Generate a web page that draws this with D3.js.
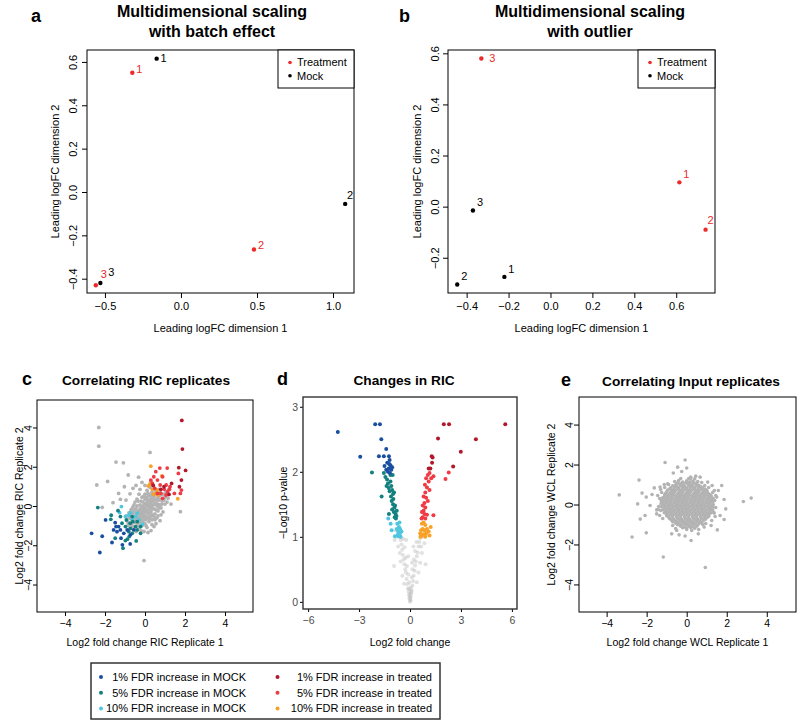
<!DOCTYPE html>
<html lang="en">
<head>
<meta charset="UTF-8">
<title>MDS and RIC replicate panels</title>
<script src="https://d3js.org/d3.v7.min.js"></script>
<style>
  body { margin: 0; background: #fff; }
  svg text { font-family: "Liberation Sans", Arial, sans-serif; }
</style>
</head>
<body>
<div id="fig"></div>
<script>
// ---------- data ----------
const mdsGroups = ["Treatment", "Mock"];
const replicateIds = ["1", "2", "3"];

// panel a: MDS with batch effect (dim1, dim2), replicate 1..3
const batchTreatment = [[-0.32, 0.55], [0.48, -0.265], [-0.56, -0.43]];
const batchMock = [[-0.16, 0.615], [1.08, -0.055], [-0.53, -0.42]];
// panel b: MDS with outlier
const outlierTreatment = [[0.615, 0.095], [0.74, -0.09], [-0.33, 0.58]];
const outlierMock = [[-0.22, -0.275], [-0.445, -0.305], [-0.37, -0.015]];

const fdrLabels = ["1% FDR increase in MOCK", "5% FDR increase in MOCK", "10% FDR increase in MOCK",
  "1% FDR increase in treated", "5% FDR increase in treated", "10% FDR increase in treated"];

// panel c: RIC replicate 1 vs replicate 2 (log2 fold change)
const ricGrey = [[-2.31,4.0],[-2.31,3.05],[-2.41,1.07],[-1.87,1.25],[-1.45,2.24],[-1.08,2.2],[-2.14,-0.07],
  [-1.32,0.64],[-0.84,1.58],[-0.32,1.47],[0.25,2.73],[-0.05,-2.78],[1.77,-0.29],[-1.6,0.17],[-1.23,0.34],
  [-1.03,0.98],[-0.6,0.9],[-0.45,1.05],[-0.15,1.2],[0.0,1.05],[-0.75,0.62],[-0.95,0.3],[-0.25,0.85],
  [0.55,-0.9],[0.75,-0.75],[0.45,-1.05],[0.3,-1.25],[0.15,-1.35],[0.6,-0.6],[0.9,-0.3],[1.3,0.1],[1.1,0.2],
  [1.0,0.45],[0.9,0.35],
  [-0.9,-0.75],[-0.8,-0.6],[-0.7,-0.9],[-0.65,-0.45],[-0.6,-0.7],[-0.55,-0.3],[-0.5,-0.55],[-0.5,-0.85],
  [-0.45,-0.15],[-0.4,-0.4],[-0.4,-0.7],[-0.35,-0.95],[-0.3,-0.25],[-0.3,-0.55],[-0.25,0.05],[-0.25,-0.8],
  [-0.2,-0.35],[-0.2,-0.6],[-0.15,-0.1],[-0.15,-1.0],[-0.1,0.2],[-0.1,-0.45],[-0.1,-0.75],[-0.05,-0.2],
  [0.0,0.1],[0.0,-0.5],[0.0,-0.9],[0.05,0.35],[0.05,-0.25],[0.05,-0.7],[0.1,0.0],[0.1,-1.1],[0.15,0.25],
  [0.15,-0.4],[0.2,0.55],[0.2,-0.15],[0.2,-0.8],[0.25,0.1],[0.25,-0.55],[0.3,0.4],[0.3,-0.3],[0.35,0.7],
  [0.35,0.0],[0.35,-0.7],[0.4,0.25],[0.4,-0.45],[0.45,0.5],[0.45,-0.15],[0.5,0.85],[0.5,0.1],[0.5,-0.4],
  [0.55,0.35],[0.6,0.0],[0.6,0.6],[0.65,-0.25],[0.7,0.3],[0.75,0.55],[0.75,0.05],[0.8,-0.1],[0.85,0.25],
  [0.9,0.6],[1.0,0.1],[1.05,0.7],[1.15,0.4],[1.2,0.85],[-0.7,-0.2],[-0.8,-0.35],[-0.95,-0.5],[-0.6,-0.05],
  [-0.35,0.25],[-0.5,0.2],[-0.15,0.45],[0.0,0.6],[0.1,0.8],[0.25,0.95],[0.4,1.05],[-0.05,-1.3],[-0.3,-1.1],
  [-0.2,-1.25],[0.35,-0.95],[0.5,-0.7],[0.65,-0.5],[0.8,-0.45],[-0.85,-1.0],[-0.75,-1.15],[-0.55,-1.1],
  [-0.45,-1.3],[0.15,0.65],[-0.3,0.6],[0.55,0.75],[0.7,0.85],[0.3,1.25],[0.0,0.35],[-0.4,0.0],[-0.65,-0.15],
  [-0.85,-0.85],[-0.75,-0.5],[-0.7,-0.65],[-0.6,-0.35],[-0.55,-0.6],[-0.45,-0.45],[-0.45,-0.75],[-0.35,-0.3],
  [-0.35,-0.6],[-0.25,-0.15],[-0.25,-0.45],[-0.2,-0.7],[-0.15,-0.25],[-0.1,0.0],[-0.05,-0.35],[-0.05,-0.6],
  [0.0,-0.1],[0.05,0.15],[0.1,-0.3],[0.1,-0.55],[0.15,0.05],[0.15,-0.2],[0.2,0.3],[0.25,-0.05],[0.25,-0.35],
  [0.3,0.2],[0.3,0.55],[0.35,-0.15],[0.4,0.45],[0.4,0.05],[0.45,0.3],[0.5,0.6],[0.55,0.15],[0.55,-0.2],
  [0.65,0.45],[0.65,0.1],[0.7,-0.1],[0.8,0.35],[0.85,0.1],[0.95,0.3],[-0.1,-0.9],[0.05,-1.0],[-0.3,-0.85],
  [0.2,-0.65],[0.3,-0.5],[0.45,-0.55],[-0.2,0.25],[-0.05,0.5],[0.1,0.45],[-0.4,0.35],[-0.55,0.05],[0.6,0.3],
  [0.75,0.7],[0.45,0.9],[-0.65,-1.0],[-0.15,-0.55],[0.35,0.25],[-0.5,-0.2],[0.0,-0.3],[0.2,0.1]];
const ricMock10 = [[-1.18,-0.03],[-1.27,-0.34],[-0.81,-0.46],[-0.64,-0.68],[-0.47,-0.54],[-0.3,-0.71],
  [-0.14,-0.93],[-0.98,-0.54],[-0.73,-0.34],[-0.39,-0.37]];
const ricMock5 = [[-2.36,-0.08],[-1.69,-0.47],[-1.71,-0.68],[-1.35,-0.24],[-1.15,-0.88],[-0.93,-0.71],
  [-0.74,-0.88],[-0.61,-0.8],[-0.47,-1.05],[-0.39,-1.22],[-0.22,-1.05],[-0.44,-1.78],[-0.79,-1.56],
  [-0.98,-1.76],[-1.1,-2.15],[-0.88,-1.69],[-0.73,-1.14],[-0.64,-1.39],[-0.98,-1.05],[-0.64,-0.54],
  [-0.39,-0.8],[-1.23,-0.54],[-0.81,-1.31],[-1.49,-1.64],[-0.22,-1.39]];
const ricMock1 = [[-2.67,-1.39],[-2.26,-2.37],[-2.14,-1.54],[-1.97,-0.71],[-1.65,-1.86],[-1.49,-0.85],
  [-1.45,-1.05],[-1.57,-1.22],[-1.4,-1.31],[-1.23,-1.22],[-1.13,-1.98],[-0.74,-1.93],[-1.06,-1.39],
  [-0.89,-1.22],[-1.32,-1.05],[-0.73,-1.47],[-0.56,-1.22],[-1.2,-1.64]];
const ricTreat10 = [[0.29,2.03],[0.84,1.53],[0.25,1.12],[0.37,0.85],[0.54,0.64],[0.42,0.61],[0.62,0.81],
  [1.64,0.37],[0.17,1.02],[0.66,0.56]];
const ricTreat5 = [[0.74,1.93],[1.11,1.93],[0.54,1.75],[0.44,1.49],[0.62,1.32],[0.88,1.49],[1.67,1.66],
  [1.77,0.64],[1.82,0.81],[0.37,1.15],[0.76,1.07],[0.96,0.85],[1.13,0.73],[1.06,1.07],[1.25,0.98],
  [0.62,0.64],[1.05,0.56],[0.88,0.39],[0.29,1.32],[1.47,0.64],[1.22,0.85],[0.49,0.9],[0.79,0.64]];
const ricTreat1 = [[1.84,4.36],[1.87,2.9],[2.03,1.81],[1.69,1.95],[1.82,1.32],[1.72,0.98],[1.33,1.15],
  [1.2,0.59],[0.95,0.98],[0.79,0.85],[0.41,1.05]];

// panel d: volcano (log2 fold change, -log10 p)
const volGrey = [[0,0],[0.02,0.03],[-0.03,0.05],[0.05,0.08],[-0.06,0.1],[0.08,0.13],[-0.08,0.15],[0.1,0.18],
  [-0.12,0.2],[0.0,0.12],[0.14,0.25],[-0.15,0.27],[0.05,0.22],[-0.04,0.3],[0.18,0.32],[-0.2,0.35],[0.1,0.38],
  [-0.1,0.42],[0.22,0.4],[-0.24,0.45],[0.27,0.48],[-0.28,0.5],[0.15,0.5],[-0.18,0.55],[0.3,0.56],[-0.33,0.58],
  [0.35,0.62],[-0.37,0.65],[0.22,0.65],[-0.25,0.68],[0.4,0.7],[-0.42,0.72],[0.45,0.76],[-0.46,0.8],[0.3,0.78],
  [-0.32,0.84],[0.5,0.85],[-0.5,0.88],[0.55,0.92],[-0.55,0.95],[0.38,0.92],[-0.4,0.97],[0.6,0.98],[-0.62,1.0],
  [0.85,0.9],[0.7,0.75],[-0.7,0.85],[-0.9,0.95],[0.6,0.6],[-0.55,0.62],[0.5,0.45],[-0.45,0.4],[0.75,1.0],
  [-0.8,1.0],[0.4,0.3],[-0.35,0.28],[0.65,0.85],[-0.6,0.75],[0.95,1.08],[-0.85,1.1],[0.12,0.6],[-0.1,0.7],
  [0.2,0.85],[-0.22,0.95],[0.92,0.58],[-0.94,0.55],[0.03,0.02],[-0.01,0.07],[0.06,0.16],[-0.05,0.2]];
const volMock1 = [[-4.25,2.61],[-2.93,2.23],[-2.05,2.73],[-1.77,2.73],[-1.69,2.5],[-1.4,2.35],[-1.83,2.24],
  [-1.54,2.24],[-1.24,2.24],[-1.5,2.09],[-1.34,2.14],[-1.2,2.18],[-1.15,2.1],[-1.25,2.05],[-1.1,2.03],
  [-1.3,2.0],[-1.18,1.98],[-1.4,2.03],[-1.05,2.07],[-1.22,2.12]];
const volMock5 = [[-2.24,1.99],[-1.67,1.62],[-1.54,1.98],[-1.24,1.35],[-1.45,1.92],[-1.35,1.88],[-1.3,1.82],
  [-1.15,1.85],[-1.25,1.75],[-1.1,1.78],[-1.2,1.7],[-1.05,1.72],[-1.0,1.66],[-1.12,1.62],[-1.08,1.55],
  [-0.98,1.58],[-1.0,1.5],[-0.92,1.45],[-1.05,1.42],[-0.95,1.38],[-0.85,1.35],[-0.9,1.3],[-0.8,1.32],
  [-1.15,1.95],[-1.38,1.78],[-0.88,1.48],[-1.02,1.95],[-0.94,1.68],[-0.78,1.4],[-0.83,1.28]];
const volMock10 = [[-1.28,1.28],[-1.14,1.2],[-1.08,1.1],[-0.89,1.01],[-0.75,1.2],[-0.65,1.15],[-0.7,1.08],
  [-0.6,1.05],[-0.55,1.0],[-0.68,1.01],[-0.78,1.12],[-0.62,1.22],[-0.5,1.08],[-0.58,1.12],[-0.72,1.03]];
const volTreat1 = [[1.99,2.73],[2.3,2.73],[5.61,2.73],[1.65,2.51],[3.88,2.5],[2.99,2.31],[1.28,2.24],
  [1.3,2.14],[2.54,2.08],[1.1,2.05],[1.2,2.05],[1.33,2.22]];
const volTreat5 = [[2.28,1.99],[2.09,1.89],[1.38,1.93],[1.05,1.95],[1.15,1.98],[0.95,1.9],[1.25,1.9],
  [1.1,1.85],[0.88,1.8],[1.0,1.76],[1.15,1.72],[0.9,1.68],[0.8,1.62],[0.95,1.6],[1.05,1.55],[0.85,1.52],
  [0.75,1.48],[0.9,1.45],[0.8,1.4],[0.7,1.38],[0.85,1.35],[0.75,1.3],[1.0,1.34],[0.68,1.28],[1.38,1.33],[0.9,1.28]];
const volTreat10 = [[0.7,1.2],[0.8,1.22],[0.9,1.18],[0.75,1.12],[0.65,1.1],[0.85,1.1],[1.0,1.12],[0.6,1.05],
  [0.7,1.02],[0.8,1.04],[0.95,1.05],[1.1,1.08],[1.22,1.15],[1.15,1.02],[0.62,1.0],[0.9,1.0]];

// panel e: input (WCL) replicate 1 vs replicate 2
const wclGrey = [[-3.37,0.48],[-2.73,-1.63],[-2.38,1.22],[-2.45,0.03],[-2.32,-0.73],[-2.23,0.57],[-2.02,0.37],
  [-2.08,-0.55],[-2.02,-1.42],[-1.83,-0.05],[-1.73,0.5],[-1.62,0.83],[-1.5,-0.47],[-1.5,-0.27],[-1.12,1.0],
  [-1.08,2.1],[-1.17,-2.63],[-0.95,1.03],[-0.45,1.87],[-0.67,1.58],[-0.08,2.23],[0.0,1.83],[-0.25,1.65],
  [0.2,1.37],[0.45,1.42],[0.67,1.37],[0.93,-3.15],[0.22,-1.8],[-0.08,-1.58],[-0.38,-1.52],[-0.75,-1.47],
  [-0.5,-1.3],[0.58,-1.47],[0.87,-1.13],[1.22,-1.05],[1.53,-1.27],[1.27,0.95],[1.58,0.7],[1.75,0.95],
  [1.5,0.37],[1.87,0.25],[1.95,-0.22],[1.87,-0.75],[1.67,-0.55],[1.37,-0.43],[2.83,0.15],[3.22,0.32],
  [1.05,1.12],[-1.33,0.87],[-1.27,0.17],
  [-1.35,0.3],[-1.3,-0.3],[-1.25,0.6],[1.4,0.2],[1.35,-0.4],[1.3,0.6],[-0.9,1.0],[0.9,0.95],[-0.7,-1.05],
  [0.8,-1.0],[0.2,1.3],[-0.4,1.2],[0.55,1.15],[0.0,-1.25],[-1.4,-0.1],[1.45,-0.15],
  [-1.45,0.45],[-1.42,-0.25],[1.45,0.45],[1.42,-0.6],[-1.2,-0.7],[1.25,-0.8],[-1.1,0.85],[1.1,0.85],
  [0.6,-1.25],[-0.55,-1.2],[0.1,1.3],[-0.3,1.3],[0.4,1.28],[-0.6,1.15],[0.75,1.1],[0.25,-1.3],[-1.3,0.75],
  [1.38,0.7],[-1.35,-0.55],[0.95,-0.95],
  [-0.2,1.12],[0.0,1.18],[0.15,1.13],[0.3,1.16],
  [-0.45,1.08],[-0.25,1.06],[-0.05,1.09],[0.15,1.06],[0.35,1.08],[0.5,1.07],
  [-0.55,0.98],[-0.35,1.02],[-0.15,0.97],[0.05,1.03],[0.25,0.99],[0.45,1.01],[0.6,0.96],
  [-0.7,0.93],[-0.5,0.91],[-0.3,0.94],[-0.1,0.9],[0.1,0.93],[0.3,0.91],[0.5,0.94],[0.7,0.9],
  [-0.8,0.83],[-0.6,0.87],[-0.4,0.84],[-0.2,0.86],[0.0,0.82],[0.2,0.88],[0.4,0.84],[0.6,0.86],[0.8,0.83],
  [-0.85,0.78],[-0.65,0.76],[-0.45,0.79],[-0.25,0.75],[-0.05,0.78],[0.15,0.76],[0.35,0.79],[0.55,0.75],
  [0.75,0.78],[0.92,0.77],
  [-0.95,0.72],[-0.75,0.68],[-0.55,0.71],[-0.35,0.69],[-0.15,0.72],[0.05,0.68],[0.25,0.71],[0.45,0.69],
  [0.65,0.72],[0.85,0.68],[1.0,0.71],
  [-1.0,0.63],[-0.8,0.61],[-0.6,0.64],[-0.4,0.6],[-0.2,0.63],[0.0,0.61],[0.2,0.64],[0.4,0.6],[0.6,0.63],
  [0.8,0.61],[1.02,0.64],
  [-1.05,0.56],[-0.85,0.53],[-0.65,0.57],[-0.45,0.54],[-0.25,0.56],[-0.05,0.53],[0.15,0.57],[0.35,0.54],
  [0.55,0.56],[0.75,0.53],[0.95,0.57],[1.1,0.54],
  [-1.1,0.48],[-0.95,0.46],[-0.75,0.49],[-0.55,0.45],[-0.35,0.48],[-0.15,0.46],[0.05,0.49],[0.25,0.45],
  [0.45,0.48],[0.65,0.46],[0.85,0.49],[1.05,0.45],[1.2,0.47],
  [-1.1,0.41],[-0.9,0.38],[-0.7,0.42],[-0.5,0.39],[-0.3,0.41],[-0.1,0.38],[0.1,0.42],[0.3,0.39],[0.5,0.41],
  [0.7,0.38],[0.9,0.42],[1.1,0.39],[1.22,0.41],
  [-1.2,0.33],[-1.0,0.31],[-0.8,0.34],[-0.6,0.3],[-0.4,0.33],[-0.2,0.31],[0.0,0.34],[0.2,0.3],[0.4,0.33],
  [0.6,0.31],[0.8,0.34],[1.0,0.3],[1.18,0.33],[1.32,0.31],
  [-1.15,0.26],[-0.95,0.23],[-0.75,0.27],[-0.55,0.24],[-0.35,0.26],[-0.15,0.23],[0.05,0.27],[0.25,0.24],
  [0.45,0.26],[0.65,0.23],[0.85,0.27],[1.05,0.24],[1.25,0.26],
  [-1.25,0.18],[-1.05,0.16],[-0.85,0.19],[-0.65,0.15],[-0.45,0.18],[-0.25,0.16],[-0.05,0.19],[0.15,0.15],
  [0.35,0.18],[0.55,0.16],[0.75,0.19],[0.95,0.15],[1.15,0.18],[1.32,0.16],
  [-1.2,0.11],[-1.0,0.08],[-0.8,0.12],[-0.6,0.09],[-0.4,0.11],[-0.2,0.08],[0.0,0.12],[0.2,0.09],[0.4,0.11],
  [0.6,0.08],[0.8,0.12],[1.0,0.09],[1.2,0.11],
  [-1.28,0.03],[-1.1,0.01],[-0.9,0.04],[-0.7,0.0],[-0.5,0.03],[-0.3,0.01],[-0.1,0.04],[0.1,0.0],[0.3,0.03],
  [0.5,0.01],[0.7,0.04],[0.9,0.0],[1.1,0.03],[1.32,0.01],
  [-1.15,-0.04],[-0.95,-0.07],[-0.75,-0.03],[-0.55,-0.06],[-0.35,-0.04],[-0.15,-0.07],[0.05,-0.03],
  [0.25,-0.06],[0.45,-0.04],[0.65,-0.07],[0.85,-0.03],[1.05,-0.06],[1.25,-0.04],
  [-1.25,-0.11],[-1.05,-0.13],[-0.85,-0.1],[-0.65,-0.14],[-0.45,-0.11],[-0.25,-0.13],[-0.05,-0.1],
  [0.15,-0.14],[0.35,-0.11],[0.55,-0.13],[0.75,-0.1],[0.95,-0.14],[1.15,-0.11],[1.32,-0.12],
  [-1.1,-0.19],[-0.9,-0.22],[-0.7,-0.18],[-0.5,-0.21],[-0.3,-0.19],[-0.1,-0.22],[0.1,-0.18],[0.3,-0.21],
  [0.5,-0.19],[0.7,-0.22],[0.9,-0.18],[1.1,-0.21],[1.2,-0.19],
  [-1.2,-0.26],[-1.0,-0.28],[-0.8,-0.25],[-0.6,-0.29],[-0.4,-0.26],[-0.2,-0.28],[0.0,-0.25],[0.2,-0.29],
  [0.4,-0.26],[0.6,-0.28],[0.8,-0.25],[1.0,-0.29],[1.2,-0.26],[1.3,-0.28],
  [-1.05,-0.34],[-0.85,-0.37],[-0.65,-0.33],[-0.45,-0.36],[-0.25,-0.34],[-0.05,-0.37],[0.15,-0.33],
  [0.35,-0.36],[0.55,-0.34],[0.75,-0.37],[0.95,-0.33],[1.15,-0.36],
  [-1.12,-0.41],[-0.95,-0.43],[-0.75,-0.4],[-0.55,-0.44],[-0.35,-0.41],[-0.15,-0.43],[0.05,-0.4],
  [0.25,-0.44],[0.45,-0.41],[0.65,-0.43],[0.85,-0.4],[1.05,-0.44],[1.2,-0.42],
  [-1.0,-0.49],[-0.8,-0.52],[-0.6,-0.48],[-0.4,-0.51],[-0.2,-0.49],[0.0,-0.52],[0.2,-0.48],[0.4,-0.51],
  [0.6,-0.49],[0.8,-0.52],[1.0,-0.48],[1.1,-0.51],
  [-1.0,-0.56],[-0.9,-0.58],[-0.7,-0.55],[-0.5,-0.59],[-0.3,-0.56],[-0.1,-0.58],[0.1,-0.55],[0.3,-0.59],
  [0.5,-0.56],[0.7,-0.58],[0.9,-0.55],[1.1,-0.59],
  [-0.9,-0.64],[-0.7,-0.67],[-0.5,-0.63],[-0.3,-0.66],[-0.1,-0.64],[0.1,-0.67],[0.3,-0.63],[0.5,-0.66],
  [0.7,-0.64],[0.9,-0.67],[1.05,-0.63],
  [-0.85,-0.71],[-0.65,-0.73],[-0.45,-0.7],[-0.25,-0.74],[-0.05,-0.71],[0.15,-0.73],[0.35,-0.7],
  [0.55,-0.74],[0.75,-0.71],[0.95,-0.73],
  [-0.75,-0.79],[-0.55,-0.82],[-0.35,-0.78],[-0.15,-0.81],[0.05,-0.79],[0.25,-0.82],[0.45,-0.78],
  [0.65,-0.81],[0.85,-0.79],
  [-0.7,-0.86],[-0.45,-0.88],[-0.25,-0.85],[-0.05,-0.89],[0.15,-0.86],[0.35,-0.88],[0.55,-0.85],[0.75,-0.89],
  [-0.55,-0.94],[-0.35,-0.97],[-0.15,-0.93],[0.05,-0.96],[0.25,-0.94],[0.45,-0.97],[0.65,-0.93],
  [-0.45,-1.01],[-0.25,-1.03],[-0.05,-1.0],[0.15,-1.04],[0.35,-1.01],[0.55,-1.03],
  [-0.3,-1.09],[-0.1,-1.12],[0.1,-1.08],[0.3,-1.11],[0.5,-1.09],
  [-0.2,-1.16],[0.0,-1.18],[0.2,-1.15],[0.4,-1.19]];

// ---------- styling ----------
const red = "#ec2a2a";
const fdrColor = {
  mock1: "#1a4fa0", mock5: "#13817f", mock10: "#50c6df",
  treat1: "#b2182b", treat5: "#ee3b44", treat10: "#f8a127"
};
const greyPt = "#b3b3b3";

// label offsets (px) for replicate numbers, [dx, dy]
const batchTOff = [[7, -4], [7, -4], [8, -11]];
const batchMOff = [[7, -1], [5, -9], [11, -11]];
const outTOff = [[7, -8], [5, -9], [11, 0]];
const outMOff = [[7, -8], [7, -8], [7, -8]];

const svg = d3.select("#fig").append("svg")
  .attr("width", 800).attr("height", 725);

const fmt1 = d3.format(".1f"), fmt0 = d3.format("d");

function panel(p) {
  const g = svg.append("g");
  const x = d3.scaleLinear().domain(p.xd).range([p.left, p.right]);
  const y = d3.scaleLinear().domain(p.yd).range([p.bottom, p.top]);

  const xa = g.append("g").attr("transform", `translate(0,${p.bottom})`)
    .call(d3.axisBottom(x).tickValues(p.xt).tickFormat(p.fmt)
      .tickSizeOuter(0).tickSize(p.tick).tickPadding(p.xpad));
  const ya = g.append("g").attr("transform", `translate(${p.left},0)`)
    .call(d3.axisLeft(y).tickValues(p.yt).tickFormat(p.fmt)
      .tickSizeOuter(0).tickSize(p.tick));
  [xa, ya].forEach(a => {
    a.select(".domain").remove();
    a.attr("font-size", p.fs);
    a.selectAll("line").attr("stroke", "#000");
    a.selectAll("text").attr("fill", p.tickInk || "#000");
  });
  if (p.rotY) {
    ya.selectAll(".tick text")
      .attr("transform", "rotate(-90)")
      .attr("x", 0).attr("y", -p.ypad).attr("dy", 0)
      .attr("text-anchor", "middle");
  } else {
    ya.selectAll(".tick text").attr("x", -p.ypad).attr("dy", "0.34em");
  }

  g.append("rect")
    .attr("x", p.left).attr("y", p.top)
    .attr("width", p.right - p.left).attr("height", p.bottom - p.top)
    .attr("fill", "none").attr("stroke", p.boxInk || "#000")
    .attr("stroke-width", p.boxW || 1);

  // axis titles
  g.append("text")
    .attr("x", (p.left + p.right) / 2).attr("y", p.xlabY)
    .attr("text-anchor", "middle").attr("font-size", p.lfs)
    .text(p.xlab);
  const cy = (p.top + p.bottom) / 2;
  g.append("text")
    .attr("transform", `translate(${p.ylabX},${cy}) rotate(-90)`)
    .attr("text-anchor", "middle").attr("dy", "0.35em").attr("font-size", p.lfs)
    .text(p.ylab);

  // title and panel letter
  p.title.forEach((t, i) => {
    g.append("text")
      .attr("x", p.titleX).attr("y", p.titleY + i * p.titleStep)
      .attr("text-anchor", "middle").attr("font-weight", "bold")
      .attr("font-size", p.tfs).text(t);
  });
  g.append("text")
    .attr("x", p.letterX).attr("y", p.letterY)
    .attr("font-weight", "bold").attr("font-size", 18).text(p.letter);

  return { g, x, y };
}

function dots(P, pts, color, r, opacity) {
  P.g.append("g").selectAll("circle")
    .data(pts)
    .join("circle")
    .attr("cx", d => P.x(d[0]))
    .attr("cy", d => P.y(d[1]))
    .attr("r", r)
    .attr("fill", color)
    .attr("fill-opacity", opacity == null ? 1 : opacity);
}

function mdsPoints(P, pts, color, offs) {
  dots(P, pts, color, 2.2);
  P.g.append("g").selectAll("text")
    .data(pts)
    .join("text")
    .attr("x", (d, i) => P.x(d[0]) + offs[i][0])
    .attr("y", (d, i) => P.y(d[1]) + offs[i][1])
    .attr("text-anchor", "middle").attr("dy", "0.35em")
    .attr("font-size", 11).attr("fill", color)
    .text((d, i) => replicateIds[i]);
}

function mdsLegend(P, x0, y0, x1, y1) {
  P.g.append("rect")
    .attr("x", x0).attr("y", y0).attr("width", x1 - x0).attr("height", y1 - y0)
    .attr("fill", "#fff").attr("stroke", "#000");
  const rows = P.g.append("g").selectAll("g")
    .data(mdsGroups)
    .join("g")
    .attr("transform", (d, i) => `translate(${x0 + 12},${y0 + 12.5 + i * 13.3})`);
  rows.append("circle").attr("r", 1.8).attr("fill", (d, i) => i === 0 ? red : "#000");
  rows.append("text").attr("x", 7).attr("dy", "0.35em").attr("font-size", 11).text(d => d);
}

// ---------- panel a ----------
const A = panel({
  left: 87, right: 354, top: 50, bottom: 293,
  xd: [-0.618, 1.138], yd: [-0.466, 0.655],
  xt: [-0.5, 0, 0.5, 1.0], yt: [-0.4, -0.2, 0, 0.2, 0.4, 0.6],
  fmt: fmt1, tick: 5, xpad: 4, ypad: 10, rotY: true, fs: 11, lfs: 11,
  xlab: "Leading logFC dimension 1", xlabY: 332,
  ylab: "Leading logFC dimension 2", ylabX: 55,
  title: ["Multidimensional scaling", "with batch effect"],
  titleX: 212, titleY: 17, titleStep: 19.5, tfs: 16,
  letter: "a", letterX: 31, letterY: 22
});
mdsPoints(A, batchTreatment, red, batchTOff);
mdsPoints(A, batchMock, "#000", batchMOff);
mdsLegend(A, 278, 50, 354, 88);

// ---------- panel b ----------
const B = panel({
  left: 448, right: 715, top: 50, bottom: 293,
  xd: [-0.489, 0.785], yd: [-0.338, 0.613],
  xt: [-0.4, -0.2, 0, 0.2, 0.4, 0.6], yt: [-0.2, 0, 0.2, 0.4, 0.6],
  fmt: fmt1, tick: 5, xpad: 4, ypad: 9, rotY: true, fs: 11, lfs: 11,
  xlab: "Leading logFC dimension 1", xlabY: 332,
  ylab: "Leading logFC dimension 2", ylabX: 417,
  title: ["Multidimensional scaling", "with outlier"],
  titleX: 590, titleY: 17, titleStep: 19.5, tfs: 16,
  letter: "b", letterX: 399, letterY: 22
});
mdsPoints(B, outlierTreatment, red, outTOff);
mdsPoints(B, outlierMock, "#000", outMOff);
mdsLegend(B, 638, 50, 715, 88);

// ---------- panel c ----------
const C = panel({
  left: 37, right: 253, top: 400, bottom: 612,
  xd: [-5.4, 5.4], yd: [-5.4, 5.4],
  xt: [-4, -2, 0, 2, 4], yt: [-4, -2, 0, 2, 4],
  fmt: fmt0, tick: 4, xpad: 4, ypad: 5, rotY: true, fs: 10.5, lfs: 10.5,
  xlab: "Log2 fold change RIC Replicate 1", xlabY: 646,
  ylab: "Log2 fold change RIC Replicate 2", ylabX: 19,
  title: ["Correlating RIC replicates"], titleX: 146, titleY: 385, titleStep: 0, tfs: 13.7,
  letter: "c", letterX: 22, letterY: 385
});
dots(C, ricGrey, greyPt, 1.9);
dots(C, ricMock10, fdrColor.mock10, 1.9);
dots(C, ricMock5, fdrColor.mock5, 1.9);
dots(C, ricMock1, fdrColor.mock1, 1.9);
dots(C, ricTreat10, fdrColor.treat10, 1.9);
dots(C, ricTreat5, fdrColor.treat5, 1.9);
dots(C, ricTreat1, fdrColor.treat1, 1.9);

// ---------- panel d ----------
const D = panel({
  left: 303, right: 517, top: 397, bottom: 609,
  xd: [-6.3, 6.3], yd: [-0.11, 3.15],
  xt: [-6, -3, 0, 3, 6], yt: [0, 1, 2, 3],
  fmt: fmt0, tick: 3, xpad: 5, ypad: 5, rotY: false, fs: 10.5, lfs: 10.5,
  tickInk: "#4d4d4d", boxInk: "#333", boxW: 1.4,
  xlab: "Log2 fold change", xlabY: 646,
  ylab: "\u2212Log10 p-value", ylabX: 283,
  title: ["Changes in RIC"], titleX: 404, titleY: 385, titleStep: 0, tfs: 13.7,
  letter: "d", letterX: 277, letterY: 385
});
dots(D, volGrey, "#bdbdbd", 2, 0.45);
dots(D, volMock10, fdrColor.mock10, 2);
dots(D, volMock5, fdrColor.mock5, 2);
dots(D, volMock1, fdrColor.mock1, 2);
dots(D, volTreat10, fdrColor.treat10, 2);
dots(D, volTreat5, fdrColor.treat5, 2);
dots(D, volTreat1, fdrColor.treat1, 2);

// ---------- panel e ----------
const E = panel({
  left: 579, right: 796, top: 397, bottom: 612,
  xd: [-5.38, 5.46], yd: [-5.38, 5.38],
  xt: [-4, -2, 0, 2, 4], yt: [-4, -2, 0, 2, 4],
  fmt: fmt0, tick: 5, xpad: 3, ypad: 6.5, rotY: true, fs: 10.5, lfs: 10.5,
  xlab: "Log2 fold change WCL Replicate 1", xlabY: 646,
  ylab: "Log2 fold change WCL Replicate 2", ylabX: 551,
  title: ["Correlating Input replicates"], titleX: 691, titleY: 386, titleStep: 0, tfs: 13.7,
  letter: "e", letterX: 561, letterY: 386
});
dots(E, wclGrey, greyPt, 1.8);

// ---------- shared FDR legend ----------
const keys = ["mock1", "mock5", "mock10", "treat1", "treat5", "treat10"];
const leg = svg.append("g");
leg.append("rect")
  .attr("x", 91).attr("y", 663).attr("width", 349).attr("height", 56)
  .attr("fill", "none").attr("stroke", "#333").attr("stroke-width", 1.5);
const items = leg.selectAll("g.item")
  .data(fdrLabels)
  .join("g")
  .attr("class", "item")
  .attr("transform", (d, i) => `translate(${i < 3 ? 101 : 277.5},${677 + (i % 3) * 15.7})`);
items.append("circle").attr("r", 2).attr("fill", (d, i) => fdrColor[keys[i]]);
items.append("text")
  .attr("x", (d, i) => i < 3 ? 145 : 154.5)
  .attr("dy", "0.35em").attr("text-anchor", "end").attr("font-size", 11)
  .text(d => d);
</script>
</body>
</html>
